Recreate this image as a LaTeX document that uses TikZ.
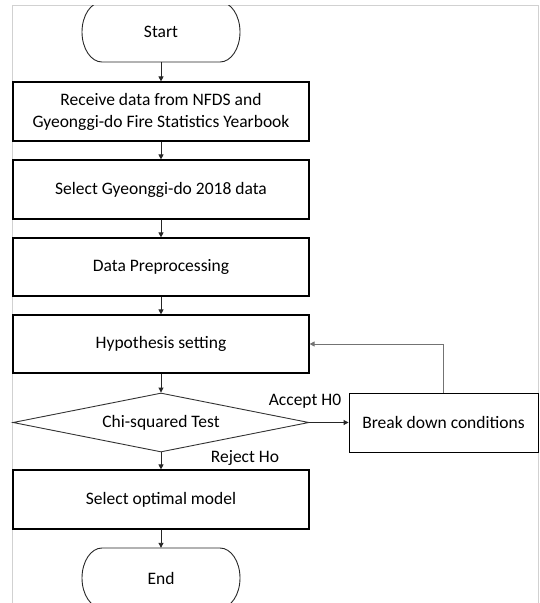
\documentclass[tikz,border=0pt]{standalone}
\usepackage{fontspec}
\setmainfont{Carlito}
\usetikzlibrary{shapes.geometric,arrows.meta}
\begin{document}
\begin{tikzpicture}[x=1pt,y=-1pt,
  every node/.style={font=\fontsize{17.5}{22}\selectfont},
  box/.style={draw=black,line width=1.2pt,minimum width=296pt,minimum height=59pt,inner sep=0pt,align=center},
  term/.style={minimum width=158pt,minimum height=60pt,inner sep=0pt},
  decision/.style={diamond,draw=black!80,line width=0.9pt,minimum width=296pt,minimum height=59pt,inner sep=0pt,aspect=5},
  flow/.style={-{Triangle[length=5pt,width=5pt]},line width=0.9pt,draw=black!85},
  loopline/.style={-{Triangle[length=5pt,width=5pt]},line width=1pt,draw=black!55},
  outline/.style={draw=black!85,line width=0.9pt},
  lbl/.style={inner sep=0pt}
]
\useasboundingbox (0,0) rectangle (539,603);
% frame
\draw[black!18,line width=1.2pt] (12.3,603) -- (12.3,5.6) -- (538.6,5.6) -- (538.6,603);

% nodes
\node[term] (start) at (161,32) {Start};
\node[box] (recv) at (161,111.5) {Receive data from NFDS and\\Gyeonggi-do Fire Statistics Yearbook};
\node[box] (sel) at (161,189.5) {Select Gyeonggi-do 2018 data};
\node[box,minimum height=58pt] (pre) at (161,267) {Data Preprocessing};
\node[box,minimum height=58pt] (hyp) at (161,344) {Hypothesis setting};
\node[decision] (chi) at (161,422.5) {Chi-squared Test};
\node[box,minimum width=189pt,line width=0.9pt] (brk) at (443.5,422.5) {Break down conditions};
\node[box] (opt) at (161,499.5) {Select optimal model};
\node[term] (end) at (161,578) {End};

% terminator outlines (elliptical ends)
\begin{scope}
\clip (0,5.6) rectangle (539,603);
\draw[outline] (102,2) -- (220,2) arc[start angle=90,end angle=-90,x radius=20pt,y radius=30pt]
  -- (102,62) arc[start angle=-90,end angle=-270,x radius=20pt,y radius=30pt] -- cycle;
\draw[outline] (102,548) -- (220,548) arc[start angle=90,end angle=-90,x radius=20pt,y radius=30pt]
  -- (102,608) arc[start angle=-90,end angle=-270,x radius=20pt,y radius=30pt] -- cycle;
\end{scope}

% connectors
\draw[flow] (start.south) -- (recv.north);
\draw[flow] (recv.south) -- (sel.north);
\draw[flow] (sel.south) -- (pre.north);
\draw[flow] (pre.south) -- (hyp.north);
\draw[flow] (hyp.south) -- (chi.north);
\draw[flow] (chi.east) -- (brk.west);
\draw[loopline] (brk.north) |- (hyp.east);
\draw[flow] (chi.south) -- (opt.north);
\draw[flow] (opt.south) -- (end.north);

% labels
\node[lbl] (acc) at (305,401) {Accept H0};
\node[lbl] (rej) at (245,458) {Reject Ho};
\end{tikzpicture}
\end{document}
